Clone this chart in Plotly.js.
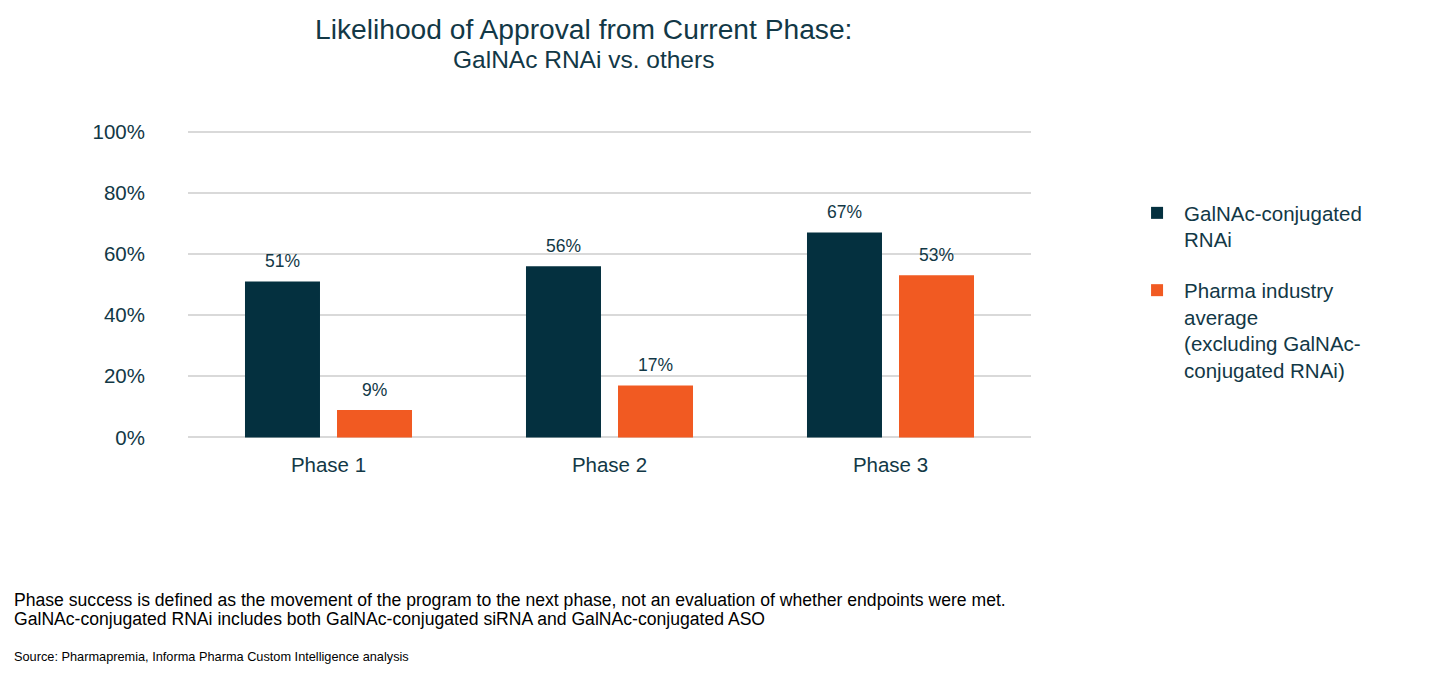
<!DOCTYPE html>
<html>
<head>
<meta charset="utf-8">
<script src="https://cdn.plot.ly/plotly-3.0.1.min.js"></script>
<style>html,body{margin:0;padding:0;background:#fff;}#chart{width:1429px;height:673px;}</style>
</head>
<body>
<div id="chart"></div>
<script>
const categories = ["Phase 1", "Phase 2", "Phase 3"];
const galnacValues = [51, 56, 67];
const pharmaValues = [9, 17, 53];
const seriesNames = ["GalNAc-conjugated<br>RNAi", "Pharma industry<br>average<br>(excluding GalNAc-<br>conjugated RNAi)"];
const yTickValues = [0, 20, 40, 60, 80, 100];
const yTickLabels = ["0%", "20%", "40%", "60%", "80%", "100%"];

const textColor = "#123846";
const font = "Liberation Sans, Arial, sans-serif";
const colors = ["#04303F", "#F15A22"];

const traces = [
  {
    type: "bar", x: categories, y: galnacValues, name: seriesNames[0],
    legendgroup: "a", marker: {color: colors[0]}, hoverinfo: "skip"
  },
  {
    type: "bar", x: categories, y: pharmaValues, name: seriesNames[1],
    legendgroup: "b", marker: {color: colors[1]}, hoverinfo: "skip"
  }
];

const labelAnns = [];
[galnacValues, pharmaValues].forEach((vals, si) => {
  vals.forEach((v, i) => {
    labelAnns.push({
      xref: "x", yref: "y", x: categories[i], y: v,
      xshift: si === 0 ? -46 : 46, yshift: 20, yanchor: "middle", xanchor: "center",
      showarrow: false, text: v + "%",
      font: {size: 17.5, color: textColor, family: font}
    });
  });
});

const layout = {
  width: 1429, height: 673,
  margin: {l: 188, r: 398, t: 129.5, b: 233.5},
  paper_bgcolor: "#fff", plot_bgcolor: "#fff",
  font: {family: font, color: textColor},
  barmode: "group", bargap: 0.345, bargroupgap: 0.185,
  xaxis: {
    type: "category", showgrid: false, zeroline: false, showline: false,
    ticks: "", ticklabelstandoff: 11, tickfont: {size: 20.5, color: textColor}
  },
  yaxis: {
    range: [-0.5, 100.5], tickvals: yTickValues, ticktext: yTickLabels,
    showgrid: true, gridcolor: "#d9d9d9", gridwidth: 2,
    zeroline: false, showline: false, ticks: "", ticklabelstandoff: 42,
    tickfont: {size: 20.5, color: textColor}, automargin: false
  },
  showlegend: true,
  legend: {
    x: 1.1175, xanchor: "left", y: 0.796, yanchor: "top", valign: "top",
    itemwidth: 44,
    font: {size: 20.5, color: textColor, family: font},
    tracegroupgap: 21, itemclick: false, bgcolor: "rgba(0,0,0,0)"
  },
  annotations: labelAnns.concat([
    {
      xref: "paper", yref: "paper", x: (583 - 188) / 843, y: 1 + (129.5 - 28) / 310.07,
      xanchor: "center", yanchor: "middle", showarrow: false,
      text: "Likelihood of Approval from Current Phase:",
      font: {size: 28.2, color: textColor, family: font}
    },
    {
      xref: "paper", yref: "paper", x: (583 - 188) / 843, y: 1 + (129.5 - 59) / 310.07,
      xanchor: "center", yanchor: "middle", showarrow: false,
      text: "GalNAc RNAi vs. others",
      font: {size: 24.5, color: textColor, family: font}
    },
    {
      xref: "paper", yref: "paper", x: (12 - 188) / 843, y: 1 - (601 - 129.5) / 310.07,
      xanchor: "left", yanchor: "middle", align: "left", showarrow: false,
      text: "Phase success is defined as the movement of the program to the next phase, not an evaluation of whether endpoints were met.",
      font: {size: 17.6, color: "#000", family: font}
    },
    {
      xref: "paper", yref: "paper", x: (12 - 188) / 843, y: 1 - (620 - 129.5) / 310.07,
      xanchor: "left", yanchor: "middle", align: "left", showarrow: false,
      text: "GalNAc-conjugated RNAi includes both GalNAc-conjugated siRNA and GalNAc-conjugated ASO",
      font: {size: 17.6, color: "#000", family: font}
    },
    {
      xref: "paper", yref: "paper", x: (12 - 188) / 843, y: 1 - (658 - 129.5) / 310.07,
      xanchor: "left", yanchor: "middle", align: "left", showarrow: false,
      text: "Source: Pharmapremia, Informa Pharma Custom Intelligence analysis",
      font: {size: 12.75, color: "#000", family: font}
    }
  ])
};

Plotly.newPlot("chart", traces, layout, {displayModeBar: false, staticPlot: true});
</script>
</body>
</html>
